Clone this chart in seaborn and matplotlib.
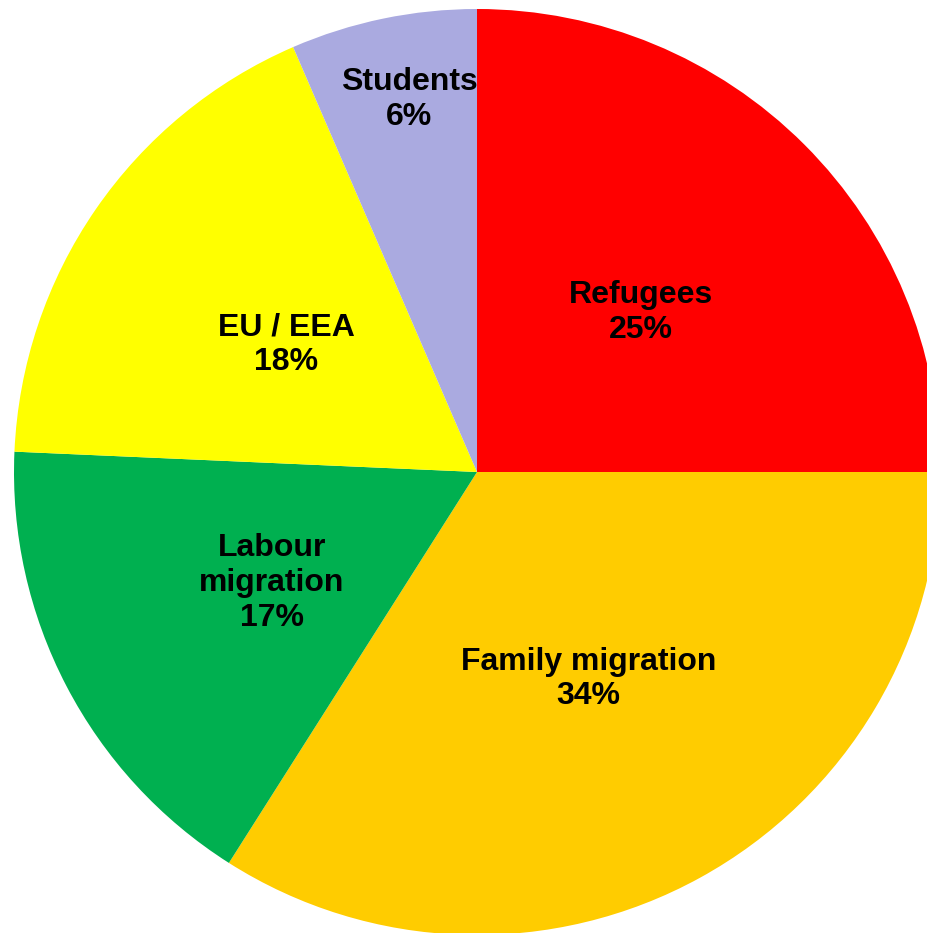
import numpy as np
import matplotlib
matplotlib.use("Agg")
import matplotlib.pyplot as plt
import seaborn as sns

categories = ["Refugees", "Family migration", "Labour migration", "EU / EEA", "Students"]
display_names = ["Refugees", "Family migration", "Labour\nmigration", "EU / EEA", "Students"]
shares = [25.0, 34.0, 16.7, 17.8, 6.5]
colors = ["#FF0000", "#FFCC00", "#00B050", "#FFFF00", "#AAAAE0"]

sns.set_style("white")
plt.rcParams["font.family"] = ["Liberation Sans", "DejaVu Sans"]

W, H = 928, 933
fig = plt.figure(figsize=(W / 100, H / 100), dpi=100)
ax = fig.add_axes([0, 0, 1, 1])

R = 463.0
cx, cy = 477.0, 472.0

wedges, _ = ax.pie(shares, colors=colors, startangle=90, counterclock=False,
                   radius=1.0, wedgeprops=dict(linewidth=0))

label_dist = [0.5, 0.5, 0.5, 0.5, 0.83]
label_dx = [0.0, 0.0, 0.0, 0.0, 0.022]
for w, name, v, d, ddx in zip(wedges, display_names, shares, label_dist, label_dx):
    mid = np.deg2rad((w.theta1 + w.theta2) / 2.0)
    x, y = d * np.cos(mid) + ddx, d * np.sin(mid) - 4.0 / R
    ax.text(x, y, f"{name}\n{round(v):d}%", ha="center", va="center",
            fontsize=23, fontweight="bold", color="black", linespacing=1.2)

ax.set_xlim(-cx / R, (W - cx) / R)
ax.set_ylim(-(H - cy) / R, cy / R)
ax.set_aspect("auto")
ax.axis("off")

fig.savefig("out.png", dpi=100, facecolor="white")
